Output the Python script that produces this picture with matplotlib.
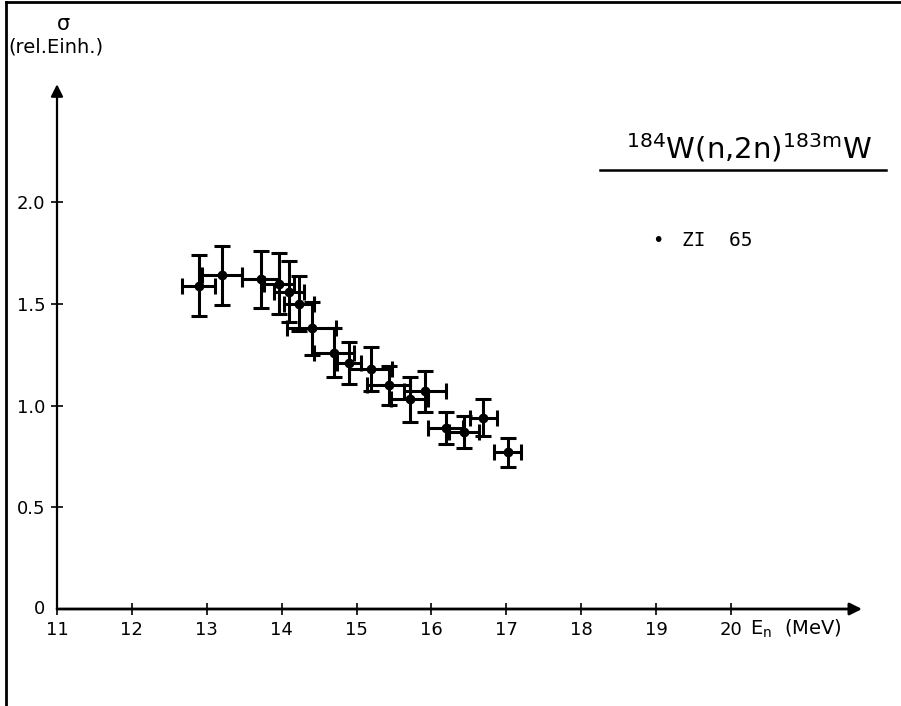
import matplotlib
matplotlib.use("Agg")
import matplotlib.pyplot as plt
from matplotlib.lines import Line2D

# data (ZI 65)
energy = [12.89, 13.20, 13.72, 13.97, 14.10, 14.23, 14.40, 14.70, 14.90,
          15.19, 15.43, 15.71, 15.91, 16.19, 16.43, 16.69, 17.02]
sigma = [1.59, 1.64, 1.62, 1.60, 1.56, 1.50, 1.38, 1.26, 1.21,
         1.18, 1.10, 1.03, 1.07, 0.89, 0.87, 0.94, 0.77]
sigma_err = [0.15, 0.145, 0.14, 0.15, 0.15, 0.135, 0.13, 0.12, 0.105,
             0.11, 0.095, 0.11, 0.10, 0.08, 0.08, 0.09, 0.073]
energy_err = [0.22, 0.27, 0.25, 0.20, 0.20, 0.20, 0.33, 0.27, 0.16,
              0.29, 0.29, 0.25, 0.28, 0.23, 0.20, 0.18, 0.18]

x_ticks = [11, 12, 13, 14, 15, 16, 17, 18, 19, 20]
y_ticks = [0.5, 1.0, 1.5, 2.0]
y_ticklabels = ["0.5", "1.0", "1.5", "2.0"]

W, H = 901, 706
fig = plt.figure(figsize=(W / 100, H / 100), dpi=100)

# axes placed in pixels: x=11 at px 57, y=0 at px 609
x0, x1 = 11, 21.75
y0, y1 = 0, 2.58
px_left, px_right = 57, 862
px_bottom = 609
px_top = px_bottom - y1 * 203.4
ax = fig.add_axes([px_left / W, (H - px_bottom) / H,
                   (px_right - px_left) / W, (px_bottom - px_top) / H])
ax.set_xlim(x0, x1)
ax.set_ylim(y0, y1)
for s in ax.spines.values():
    s.set_visible(False)
ax.patch.set_alpha(0)

font = "DejaVu Sans"
# axis lines with arrows
ax.annotate("", xy=(1.0, 0), xytext=(0, 0), xycoords="axes fraction",
            arrowprops=dict(arrowstyle="-|>", lw=2, color="black",
                            mutation_scale=18, shrinkA=0, shrinkB=0))
ax.annotate("", xy=(0, 1.0), xytext=(0, 0), xycoords="axes fraction",
            arrowprops=dict(arrowstyle="-|>", lw=1.6, color="black",
                            mutation_scale=18, shrinkA=0, shrinkB=0))

ax.set_xticks(x_ticks)
ax.set_xticklabels([str(t) for t in x_ticks])
ax.set_yticks(y_ticks)
ax.set_yticklabels(y_ticklabels)
ax.tick_params(direction="inout", length=9, width=1.2, labelsize=13, pad=4)
for lab in ax.get_xticklabels() + ax.get_yticklabels():
    lab.set_family(font)
ax.text(10.84, 0, "0", ha="right", va="center", fontsize=13, family=font)
ax.text(20.25, -0.1, r"E$_\mathregular{n}$  (MeV)", ha="left", va="center",
        fontsize=14, family=font)

ax.errorbar(energy, sigma, yerr=sigma_err, xerr=energy_err, fmt="o",
            color="black", ms=6, elinewidth=2.2, capsize=5.5, capthick=2.2,
            clip_on=False)

# axis label
fig.text(63 / W, 1 - 24 / H, "σ", ha="center", va="center", fontsize=15,
         family=font)
fig.text(8 / W, 1 - 47 / H, "(rel.Einh.)", ha="left", va="center",
         fontsize=14, family=font)

# title with underline
fig.text(749 / W, 1 - 148 / H, r"$^{184}$W(n,2n)$^{183\mathregular{m}}$W",
         ha="center", va="center", fontsize=21, family=font)
fig.add_artist(Line2D([600 / W, 886 / W], [1 - 170 / H, 1 - 170 / H],
                      color="black", lw=1.8))

# legend
fig.text(658 / W, 1 - 241 / H, "•", ha="center", va="center", fontsize=14,
         family=font)
fig.text(682 / W, 1 - 240 / H, "ZI  65", ha="left", va="center",
         fontsize=14, family="DejaVu Sans Mono")

# scanned page frame (left and top edge)
fig.add_artist(Line2D([6 / W, 6 / W], [0, 1 - 2 / H], color="black", lw=2))
fig.add_artist(Line2D([6 / W, 1], [1 - 2 / H, 1 - 2 / H], color="black", lw=2))

fig.savefig("out.png", dpi=100)
